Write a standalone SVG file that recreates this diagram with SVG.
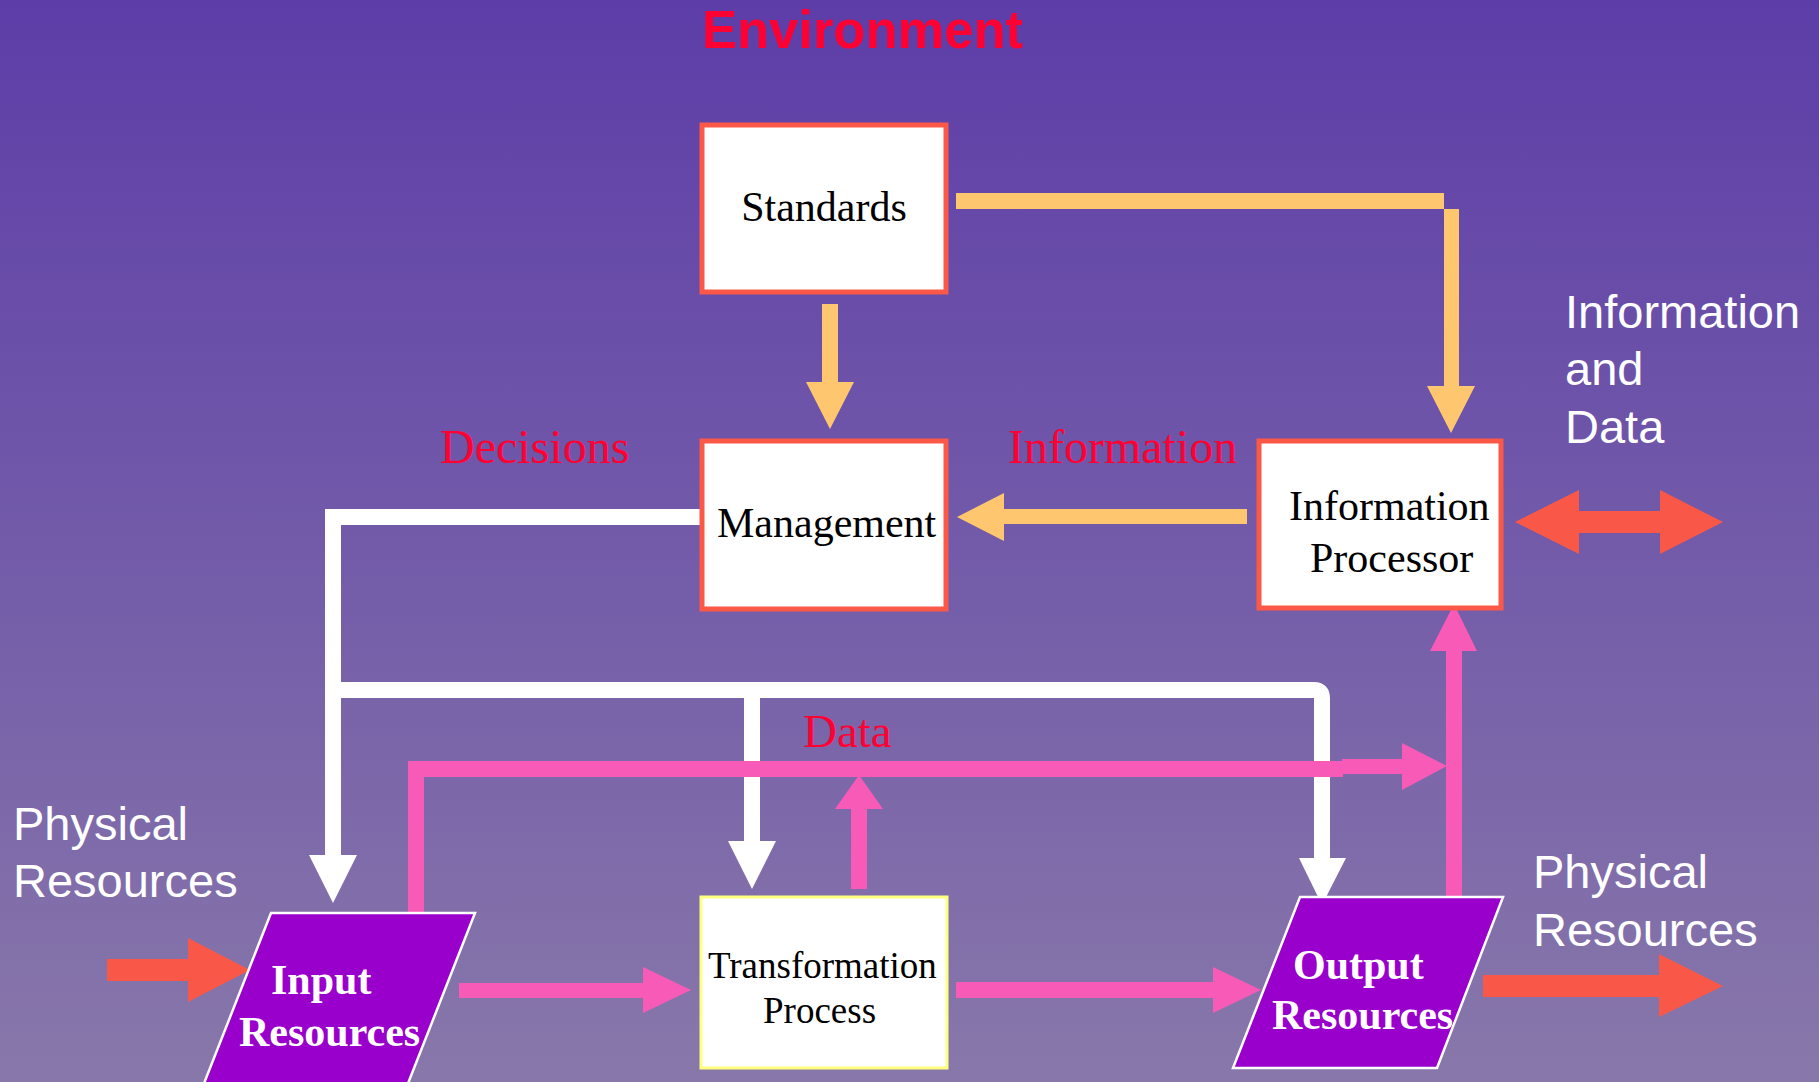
<svg xmlns="http://www.w3.org/2000/svg" width="1819" height="1082" viewBox="0 0 1819 1082">
  <defs>
    <linearGradient id="bg" x1="0" y1="0" x2="0" y2="1">
      <stop offset="0" stop-color="#5D3DA8"/>
      <stop offset="1" stop-color="#8878AA"/>
    </linearGradient>
    <style>
      .box { fill: #FFFFFF; stroke: #FB5848; stroke-width: 5; }
      .tbox { fill: #FFFFFF; stroke: #FFFF80; stroke-width: 3; }
      .para { fill: #9900CC; stroke: #FFFFFF; stroke-width: 2.5; }
      .nodetext { font-family: "Liberation Serif", "Times New Roman", serif; font-size: 42px; fill: #000000; }
      .paratext { font-family: "Liberation Serif", "Times New Roman", serif; font-size: 42px; font-weight: bold; fill: #FFFFFF; }
      .redlabel { font-family: "Liberation Serif", "Times New Roman", serif; font-size: 48px; fill: #FF0033; }
      .whitelabel { font-family: "Liberation Sans", Arial, sans-serif; font-size: 47px; fill: #FFFFFF; }
      .title { font-family: "Liberation Sans", Arial, sans-serif; font-size: 53px; font-weight: bold; fill: #FF0033; }
      .orange { fill: #FFC670; }
      .pink { fill: #F85AB8; }
      .coral { fill: #F95848; }
      .white { fill: #FFFFFF; }
      .wline { fill: none; stroke: #FFFFFF; stroke-width: 16; stroke-linejoin: miter; }
      .pline { fill: none; stroke: #F85AB8; stroke-width: 16; stroke-linejoin: miter; }
    </style>
  </defs>

  <rect x="0" y="0" width="1819" height="1082" fill="url(#bg)"/>

  <text class="title" x="702" y="48" textLength="321" lengthAdjust="spacingAndGlyphs">Environment</text>

  <!-- connectors -->
  <g id="connectors">
    <!-- decisions: management to input / transformation / output -->
    <path class="wline" d="M 704 517 H 333 V 858"/>
    <path class="wline" d="M 341 690 H 1314 Q 1322 690 1322 698 V 860"/>
    <path class="wline" d="M 752 690 V 843"/>
    <polygon class="white" points="309,855 333,903 357,855"/>
    <polygon class="white" points="728,841 752,889 776,841"/>
    <polygon class="white" points="1299,858 1322,905 1346,858"/>

    <!-- standards to management -->
    <rect class="orange" x="822" y="304" width="16" height="79"/>
    <polygon class="orange" points="806,382 830,429 854,382"/>

    <!-- standards to information processor -->
    <polygon class="orange" points="956,193 1444,193 1444,209 1459,209 1459,387 1444,387 1444,209 956,209"/>
    <rect class="orange" x="1444" y="209" width="15" height="178"/>
    <polygon class="orange" points="1427,386 1451,433 1475,386"/>

    <!-- information processor to management -->
    <rect class="orange" x="1003" y="509" width="244" height="15"/>
    <polygon class="orange" points="1004,493 957,517 1004,541"/>

    <!-- data: input resources to information processor -->
    <path class="pline" d="M 416 918 V 769 H 1343"/>
    <rect class="pink" x="1342" y="759" width="62" height="15"/>
    <polygon class="pink" points="1402,743 1447,766 1402,790"/>

    <!-- data: transformation up to data line -->
    <rect class="pink" x="851" y="808" width="16" height="81"/>
    <polygon class="pink" points="835,809 859,775 883,809"/>

    <!-- data: output resources to information processor -->
    <rect class="pink" x="1446" y="650" width="16" height="254"/>
    <polygon class="pink" points="1430,651 1454,604 1477,651"/>

    <!-- input resources to transformation -->
    <rect class="pink" x="459" y="983" width="185" height="15"/>
    <polygon class="pink" points="643,967 691,990 643,1013"/>

    <!-- transformation to output resources -->
    <rect class="pink" x="956" y="982" width="258" height="16"/>
    <polygon class="pink" points="1213,967 1261,990 1213,1013"/>

    <!-- physical resources in -->
    <rect class="coral" x="107" y="959" width="82" height="22"/>
    <polygon class="coral" points="188,938 250,970 188,1002"/>

    <!-- physical resources out -->
    <rect class="coral" x="1483" y="975" width="177" height="22"/>
    <polygon class="coral" points="1659,954 1723,986 1659,1017"/>

    <!-- information and data exchange -->
    <polygon class="coral" points="1515,522 1579,490 1579,511 1660,511 1660,490 1723,522 1660,554 1660,533 1579,533 1579,554"/>

    <!-- connector labels -->
    <text class="redlabel" x="440" y="463">Decisions</text>
    <text class="redlabel" x="1008" y="463">Information</text>
    <text class="redlabel" x="803" y="747" style="font-size:47px">Data</text>
  </g>

  <!-- nodes -->
  <g id="standards">
    <rect class="box" x="702" y="125" width="244" height="167"/>
    <text class="nodetext" x="824" y="221" text-anchor="middle">Standards</text>
  </g>

  <g id="management">
    <rect class="box" x="702" y="441" width="244" height="168"/>
    <text class="nodetext" x="717" y="537">Management</text>
  </g>

  <g id="information-processor">
    <rect class="box" x="1259" y="441" width="242" height="167"/>
    <text class="nodetext" x="1289" y="520">Information</text>
    <text class="nodetext" x="1310" y="572">Processor</text>
  </g>

  <g id="transformation-process">
    <rect class="tbox" x="701" y="897" width="246" height="171"/>
    <text class="nodetext" x="708" y="978" style="font-size:37px">Transformation</text>
    <text class="nodetext" x="763" y="1023" style="font-size:37px">Process</text>
  </g>

  <g id="input-resources">
    <polygon class="para" points="271,913 475,913 407,1086 203,1086"/>
    <text class="paratext" x="271" y="994">Input</text>
    <text class="paratext" x="239" y="1046">Resources</text>
  </g>

  <g id="output-resources">
    <polygon class="para" points="1300,897 1503,897 1437,1068 1233,1068"/>
    <text class="paratext" x="1293" y="979">Output</text>
    <text class="paratext" x="1272" y="1029">Resources</text>
  </g>

  <!-- free labels -->
  <g id="labels">
    <text class="whitelabel" x="13" y="840">Physical</text>
    <text class="whitelabel" x="13" y="897">Resources</text>
    <text class="whitelabel" x="1533" y="888">Physical</text>
    <text class="whitelabel" x="1533" y="946">Resources</text>
    <text class="whitelabel" x="1565" y="328">Information</text>
    <text class="whitelabel" x="1565" y="385">and</text>
    <text class="whitelabel" x="1565" y="443">Data</text>
  </g>
</svg>
